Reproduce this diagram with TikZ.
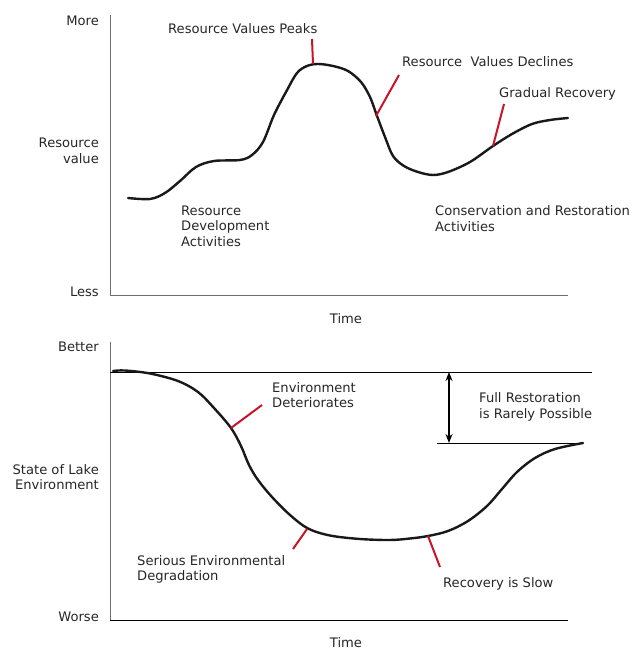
\documentclass[tikz,border=0pt]{standalone}
\usepackage{fontspec}
\setmainfont{DejaVu Sans}
\usetikzlibrary{arrows.meta}
\definecolor{pointred}{RGB}{200,20,40}
\definecolor{axisgrey}{RGB}{110,110,110}

\begin{document}
\begin{tikzpicture}[x=1pt, y=-1pt,
    every node/.style={font=\fontsize{13.1}{15.6}\selectfont, text=black!85, inner sep=0pt},
    axis/.style={axisgrey, line width=1pt},
    level/.style={black, line width=0.8pt},
    curve/.style={black!90, line width=2.4pt, line cap=round},
    pointer/.style={pointred, line width=2pt},
    lbl/.style={anchor=west, align=left},
    ylbl/.style={anchor=east, align=right}]
    \useasboundingbox (0,0) rectangle (632,650);

    % resource value chart
    \coordinate (top1) at (110,15);
    \coordinate (orig1) at (110,295);
    \coordinate (end1) at (568,295);
    \draw[axis] (top1) -- (orig1) -- (end1);

    \node[ylbl] (more) at (99,21) {More};
    \node[ylbl] (rv)   at (99,151) {Resource\\value};
    \node[ylbl] (less) at (99,292) {Less};
    \node (time1) at (346,319) {Time};

    \draw[curve] plot[smooth, tension=0.55] coordinates {
        (128,198) (150,199) (165,193) (180,181) (196,167) (214,161)
        (240,160) (252,155) (263,142) (274,115) (286,92) (297,73)
        (307,66) (318,64) (333,66) (348,71) (361,82) (370,97)
        (377,116) (385,137) (393,156) (404,166) (418,172) (433,175)
        (448,172) (470,162) (493,146) (512,134) (532,124) (550,120) (568,118)};
    \coordinate (peak) at (313,64);
    \coordinate (decl) at (376,116);
    \coordinate (recov) at (493,146);

    \node[lbl] (peaklbl) at (168,29) {Resource Values Peaks};
    \node[lbl] (decllbl) at (402,62) {Resource\ \ Values Declines};
    \node[lbl] (recovlbl) at (499,94) {Gradual Recovery};
    \node[lbl] (devlbl) at (181,226) {Resource\\Development\\Activities};
    \node[lbl] (conslbl) at (435,218.5) {Conservation and Restoration\\Activities};

    \coordinate (peaktip) at (312,39);
    \coordinate (decltip) at (399,75);
    \coordinate (recovtip) at (504,104);
    \draw[pointer] (peaktip) -- (peak);
    \draw[pointer] (decltip) -- (decl);
    \draw[pointer] (recovtip) -- (recov);

    % lake environment chart
    \coordinate (top2) at (110,342);
    \coordinate (orig2) at (110,620);
    \coordinate (end2) at (568,620);
    \draw[axis] (top2) -- (orig2);
    \draw[level] (orig2) -- (end2);

    \node[ylbl] (better) at (99,347) {Better};
    \node[ylbl] (state)  at (99,477) {State of Lake\\Environment};
    \node[ylbl] (worse)  at (99,617) {Worse};
    \node (time2) at (346,643) {Time};

    \coordinate (bestL) at (110,372);
    \coordinate (bestR) at (592,372);
    \coordinate (partL) at (437,443);
    \coordinate (partR) at (583,443);
    \draw[level] (bestL) -- (bestR);
    \draw[level] (partL) -- (partR);
    \coordinate (gapT) at (449,372);
    \coordinate (gapB) at (449,443);
    \draw[line width=1.6pt, {Stealth[length=9pt,width=7pt]}-{Stealth[length=9pt,width=7pt]}] (gapT) -- (gapB);

    \draw[curve] plot[smooth, tension=0.55] coordinates {
        (113,371) (125,370.5) (150,373.5) (178,381) (198,392) (214,408)
        (231,428) (241,446) (249,465) (258,480) (272,497) (290,515)
        (308,528.5) (330,535.5) (360,539) (390,540) (410,538.5) (428,536)
        (448,531) (468,521) (487,506) (502,489) (517,472) (535,458)
        (555,449) (583,443)};
    \coordinate (deter) at (231,428);
    \coordinate (degr) at (307,529);
    \coordinate (slow) at (428,536);

    \node[lbl] (deterlbl) at (272,395) {Environment\\Deteriorates};
    \node[lbl] (fulllbl) at (479,407) {Full Restoration\\is Rarely Possible};
    \node[lbl] (degrlbl) at (137,569.5) {Serious Environmental\\Degradation};
    \node[lbl] (slowlbl) at (443,584) {Recovery is Slow};

    \coordinate (detertip) at (262,405);
    \coordinate (degrtip) at (293,549);
    \coordinate (slowtip) at (440,567);
    \draw[pointer] (detertip) -- (deter);
    \draw[pointer] (degrtip) -- (degr);
    \draw[pointer] (slowtip) -- (slow);
\end{tikzpicture}
\end{document}
